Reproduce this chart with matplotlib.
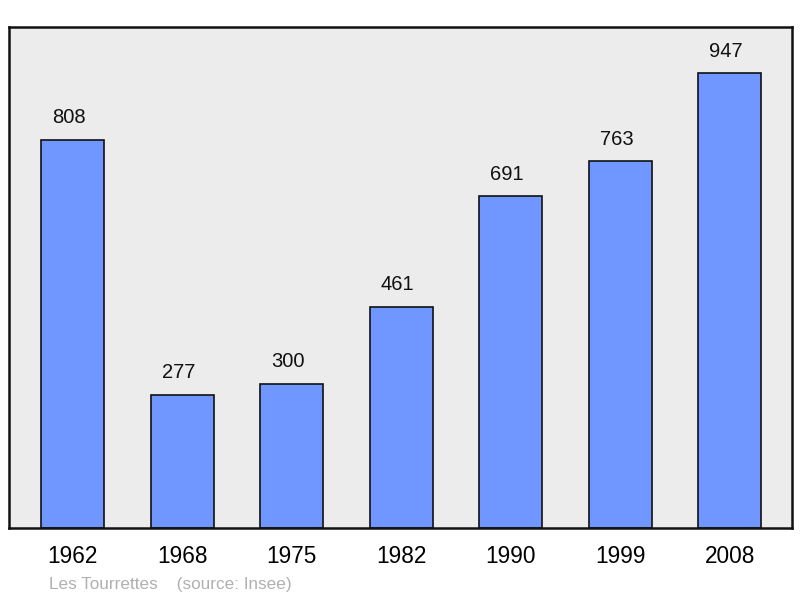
import matplotlib
matplotlib.use("Agg")
import matplotlib.pyplot as plt

years = ["1962", "1968", "1975", "1982", "1990", "1999", "2008"]
population = [808, 277, 300, 461, 691, 763, 947]

plt.rcParams['font.family'] = ['Liberation Sans', 'DejaVu Sans']

fig = plt.figure(figsize=(8, 5.98), dpi=100)
ax = fig.add_axes([9/800, 70/598, 783/800, 501/598])
ax.set_facecolor('#ececec')
x = list(range(len(years)))
ax.bar(x, population, width=0.575, color='#7097ff', edgecolor='#111111', linewidth=1.2, zorder=2)
for xi, v in zip(x, population):
    ax.annotate(str(v), (xi, v), xytext=(-3.5*0.72, 22*0.72), textcoords='offset points',
                ha='center', va='center', fontsize=14.5, color='#111111')
ax.set_xlim(-0.58, 6.57)
ax.set_ylim(0, 1043)
ax.set_yticks([])
ax.set_xticks(x)
ax.set_xticklabels(years, fontsize=16.3)
ax.tick_params(axis='x', length=0, pad=12.5)
for s in ax.spines.values():
    s.set_linewidth(1.8)
    s.set_color('#111111')
fig.text(49/800, 1 - 584/598, "Les Tourrettes    (source: Insee)", fontsize=12.3,
         color='#b0b0b0', ha='left', va='center')
fig.savefig('out.png', dpi=100)
